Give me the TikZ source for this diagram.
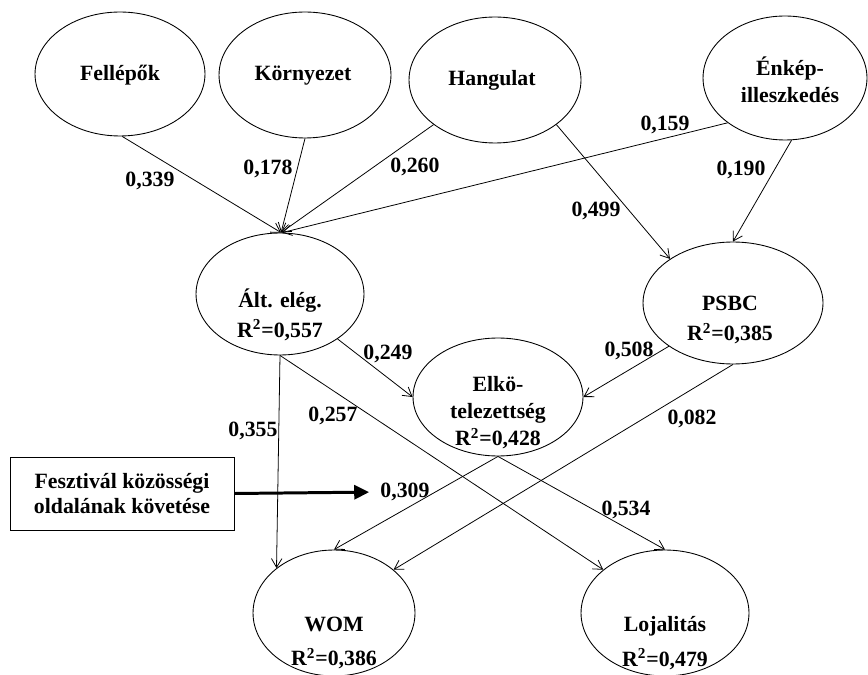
\documentclass[tikz,border=0pt]{standalone}
\usepackage{fontspec}
\setmainfont{Liberation Serif}
\usetikzlibrary{shapes.geometric,arrows.meta}

\begin{document}
\begin{tikzpicture}[x=0.02cm, y=-0.02cm,
        font=\bfseries\fontsize{12.4}{15.3}\selectfont,
        latent/.style={draw, ellipse, inner sep=0pt, line width=0.5pt},
        txt/.style={align=center, inner sep=0pt},
        coef/.style={inner sep=0pt},
        effect/.style={-{Straight Barb[length=5pt, width=6pt]}, line width=0.45pt},
        moder/.style={-{Triangle[length=8.5pt, width=8pt]}, line width=1.7pt, shorten >=0.22cm}]
        \useasboundingbox (0, 0) rectangle (868, 675);
        \node[latent, minimum width=3.4cm, minimum height=2.48cm] (fel) at (120, 74) {};
        \node[latent, minimum width=3.44cm, minimum height=2.52cm] (kor) at (305, 75) {};
        \node[latent, minimum width=3.44cm, minimum height=2.52cm] (hang) at (495, 80) {};
        \node[latent, minimum width=3.28cm, minimum height=2.48cm] (enk) at (785, 78) {};
        \node[latent, minimum width=3.36cm, minimum height=2.44cm] (alt) at (280, 294) {};
        \node[latent, minimum width=3.6cm, minimum height=2.44cm] (psbc) at (733, 303) {};
        \node[latent, minimum width=3.4cm, minimum height=2.36cm] (elk) at (498, 397) {};
        \node[latent, minimum width=3.24cm, minimum height=2.52cm] (wom) at (334, 613) {};
        \node[latent, minimum width=3.36cm, minimum height=2.52cm] (loj) at (665, 613) {};
        \node[txt] (felT) at (120, 75) {Fellépők};
        \node[txt] (korT) at (303, 76) {Környezet};
        \node[txt] (hangT) at (492, 80) {Hangulat};
        \node[txt] (enkT) at (790, 80) {Énkép-\\illeszkedés};
        \node[txt] (altT) at (280, 315) {Ált. elég.\\[1.7pt]R\textsuperscript{2}=0,557};
        \node[txt] (psbcT) at (730, 320) {PSBC\\[2.3pt]R\textsuperscript{2}=0,385};
        \node[txt] (elkT) at (498, 413) {Elkö-\\telezettség\\R\textsuperscript{2}=0,428};
        \node[txt] (womT) at (334, 643) {WOM\\[4.5pt]R\textsuperscript{2}=0,386};
        \node[txt] (lojT) at (665, 643) {Lojalitás\\[4.5pt]R\textsuperscript{2}=0,479};
        \node[draw, align=center, line width=0.5pt, minimum width=4.48cm, minimum height=1.46cm] (fol) at (122, 493.5) {Fesztivál közösségi\\[-1.1pt]oldalának követése};
        \node[coef] (c339) at (150, 181) {0,339};
        \node[coef] (c178) at (268, 169) {0,178};
        \node[coef] (c260) at (415, 167) {0,260};
        \node[coef] (c159) at (665, 125) {0,159};
        \node[coef] (c190) at (741, 170) {0,190};
        \node[coef] (c499) at (596, 211) {0,499};
        \node[coef] (c249) at (388, 354) {0,249};
        \node[coef] (c508) at (629, 351) {0,508};
        \node[coef] (c355) at (253, 431) {0,355};
        \node[coef] (c257) at (333, 416) {0,257};
        \node[coef] (c082) at (692, 419) {0,082};
        \node[coef] (c309) at (405, 492) {0,309};
        \node[coef] (c534) at (626, 510) {0,534};
        \draw[effect] (fel.-88) -- (alt.89);
        \draw[effect] (kor.south) -- (alt.89);
        \draw[effect] (hang.216) -- (alt.89);
        \draw[effect] (enk.218) -- (alt.88);
        \draw[effect] (hang.-36) -- (psbc.145);
        \draw[effect] (enk.-84) -- (psbc.north);
        \draw[effect] (alt.-38) -- (elk.west);
        \draw[effect] (psbc.214) -- (elk.east);
        \draw[effect] (alt.south) -- (wom.142);
        \draw[effect] (alt.south) -- (loj.145);
        \draw[effect] (elk.south) -- (wom.north);
        \draw[effect] (elk.south) -- (loj.north);
        \draw[effect] (psbc.south) -- (wom.36);
        \draw[moder] (fol.east) -- (c309.west);
    \end{tikzpicture}
\end{document}
